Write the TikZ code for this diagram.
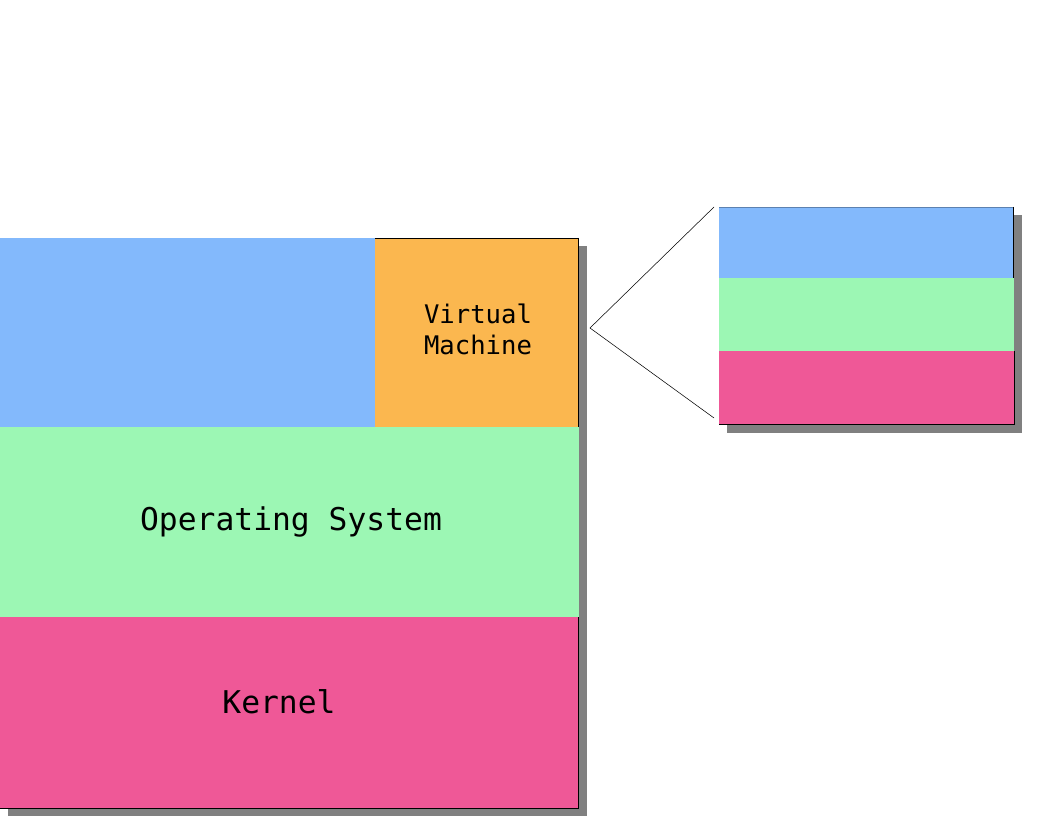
\documentclass[tikz,border=0pt]{standalone}
\usepackage{fontspec}
\newfontfamily\monofam{DejaVu Sans Mono}
\definecolor{cblue}{HTML}{83B9FC}
\definecolor{cgreen}{HTML}{9CF7B4}
\definecolor{cpink}{HTML}{EF5897}
\definecolor{corange}{HTML}{FBB74F}
\definecolor{cshadow}{HTML}{808080}
\tikzset{
  lbl/.style={font=\monofam, text=black, align=center, inner sep=0pt},
  edge/.style={draw=black, line width=0.6pt},
  thin/.style={draw=black, line width=0.4pt}
}
\begin{document}
\begin{tikzpicture}[x=0.75pt,y=-0.75pt]
\useasboundingbox (0,0) rectangle (1056,816);
% big stack shadow
\fill[cshadow] (8,246) rectangle (587,816);
% layers
\fill[cblue] (0,238) rectangle (375,427);
\fill[corange] (375,238) rectangle (578,427);
\fill[cgreen] (0,427) rectangle (579,617);
\fill[cpink] (0,617) rectangle (578,808);
\draw[edge] (375,238) -- (578,238);
\draw[edge] (578,238) -- (578,427);
\draw[edge] (578,617) -- (578,808) -- (0,808);
\node[lbl, font=\monofam\fontsize{19.2}{23.25}\selectfont] (vm) at (478,329) {Virtual\\Machine};
\node[lbl, font=\monofam\fontsize{23.5}{28}\selectfont] (os) at (291,522) {Operating System};
\node[lbl, font=\monofam\fontsize{23.5}{28}\selectfont] (kernel) at (279,702) {Kernel};
% small stack
\fill[cshadow] (727,215) rectangle (1022,433);
\fill[cblue] (719,207) rectangle (1013,278);
\fill[cgreen] (719,278) rectangle (1014,351);
\fill[cpink] (719,351) rectangle (1014,424);
\draw[draw=cblue!70!black, line width=0.5pt] (719,207) -- (1013,207);
\draw[edge] (1013,207) -- (1013,278);
\draw[edge] (1014,351) -- (1014,424) -- (719,424);
% zoom lines
\coordinate (apex) at (590,328);
\coordinate (zt) at (714,207);
\coordinate (zb) at (714,418);
\draw[thin] (zt) -- (apex) -- (zb);
\end{tikzpicture}
\end{document}
